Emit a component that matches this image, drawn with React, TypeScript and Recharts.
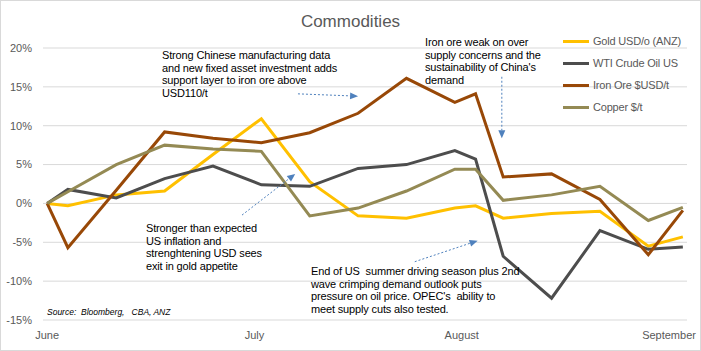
import React from 'react';
import { LineChart, Line, XAxis, YAxis, CartesianGrid, ReferenceLine } from 'recharts';

// days since the start of June, one entry per observation
const days = [0, 3, 10, 17, 24, 31, 38, 45, 52, 59, 62, 66, 73, 80, 87, 92];

// % change since start of period
const gold = [0, -0.3, 1.1, 1.6, 6.3, 10.9, 2.8, -1.6, -1.9, -0.6, -0.3, -1.9, -1.3, -1.0, -5.5, -4.3];
const wti = [0, 1.8, 0.7, 3.2, 4.8, 2.4, 2.2, 4.5, 5.0, 6.8, 5.7, -6.8, -12.2, -3.5, -5.9, -5.6];
const ironOre = [0, -5.7, 1.7, 9.2, 8.4, 7.8, 9.1, 11.6, 16.1, 13.0, 14.1, 3.4, 3.8, 0.5, -6.6, -0.9];
const copper = [0, 1.5, 5.0, 7.5, 7.0, 6.7, -1.6, -0.6, 1.6, 4.4, 4.4, 0.4, 1.1, 2.2, -2.2, -0.5];

const monthTicks = [0, 30, 60, 90];
const monthLabels = ['June', 'July', 'August', 'September'];
const pctTicks = [-15, -10, -5, 0, 5, 10, 15, 20];

const seriesKeys = ['gold', 'wti', 'iron', 'copper'];
const seriesNames = ['Gold USD/o (ANZ)', 'WTI Crude Oil US', 'Iron Ore $USD/t', 'Copper $/t'];
const seriesColors = ['#FFC000', '#4D4D4D', '#984807', '#948A54'];

// annotation arrows, in chart units (day, %)
const arrowFrom = [[36.3, 14.1], [28.2, -1.5], [65.8, 16.3], [53.2, -7.5]];
const arrowTo = [[45.0, 13.8], [35.9, 3.8], [65.8, 8.4], [62.3, -4.8]];

const data = days.map((d, i) => ({
  day: d,
  gold: gold[i],
  wti: wti[i],
  iron: ironOre[i],
  copper: copper[i],
}));

const font = '"Liberation Sans", Arial, sans-serif';
const grey = '#595959';
const arrowColor = '#4F81BD';

const Arrow = (props: any) => {
  const { x1, y1, x2, y2 } = props;
  const ang = Math.atan2(y2 - y1, x2 - x1);
  const len = 8;
  const half = 3.5;
  const bx = x2 - len * Math.cos(ang);
  const by = y2 - len * Math.sin(ang);
  const px = -Math.sin(ang) * half;
  const py = Math.cos(ang) * half;
  return (
    <g>
      <line x1={x1} y1={y1} x2={bx} y2={by} stroke={arrowColor} strokeWidth={1} strokeDasharray="2 2" />
      <polygon points={`${x2},${y2} ${bx + px},${by + py} ${bx - px},${by - py}`} fill={arrowColor} />
    </g>
  );
};

const noteStyle: React.CSSProperties = {
  position: 'absolute',
  fontFamily: font,
  fontSize: 11,
  letterSpacing: -0.15,
  lineHeight: '12.5px',
  color: '#000',
  whiteSpace: 'pre',
};

export default function App() {
  return (
    <div style={{ position: 'absolute', left: 0, top: 0, width: 701, height: 351, background: '#fff' }}>
      <LineChart width={701} height={351} data={data} margin={{ top: 48, right: 14, left: 0, bottom: 0 }}>
        <CartesianGrid vertical={false} stroke="#D9D9D9" />
        <XAxis
          dataKey="day"
          type="number"
          domain={[-0.6, 92.6]}
          ticks={monthTicks}
          tickFormatter={(v: number) => monthLabels[monthTicks.indexOf(v)]}
          axisLine={false}
          tickLine={false}
          tickSize={0}
          tickMargin={11}
          height={31}
          tick={{ fill: grey, fontSize: 11, fontFamily: font }}
          allowDataOverflow
        />
        <YAxis
          domain={[-15, 20]}
          ticks={pctTicks}
          tickFormatter={(v: number) => `${v}%`}
          axisLine={false}
          tickLine={false}
          tickSize={0}
          tickMargin={11}
          width={43}
          tick={{ fill: grey, fontSize: 11, fontFamily: font }}
        />
        {seriesKeys.map((k, i) => (
          <Line
            key={k}
            dataKey={k}
            name={seriesNames[i]}
            type="linear"
            stroke={seriesColors[i]}
            strokeWidth={3}
            dot={false}
            isAnimationActive={false}
          />
        ))}
        {arrowFrom.map((f, i) => (
          <ReferenceLine
            key={i}
            segment={[{ x: f[0], y: f[1] }, { x: arrowTo[i][0], y: arrowTo[i][1] }]}
            shape={Arrow}
          />
        ))}
      </LineChart>

      <div style={{ position: 'absolute', left: 0, width: 701, top: 12, textAlign: 'center', fontFamily: font, fontSize: 17, color: grey }}>
        Commodities
      </div>

      <div style={{ position: 'absolute', left: 563, top: 30 }}>
        {seriesNames.map((n, i) => (
          <div key={n} style={{ display: 'flex', alignItems: 'center', height: 22 }}>
            <div style={{ width: 26, height: 3, background: seriesColors[i], marginRight: 4 }} />
            <span style={{ fontFamily: font, fontSize: 11, color: grey, letterSpacing: -0.2 }}>{n}</span>
          </div>
        ))}
      </div>

      <div style={{ ...noteStyle, left: 162, top: 49 }}>
        {'Strong Chinese manufacturing data\nand new fixed asset investment adds\nsupport layer to iron ore above\nUSD110/t'}
      </div>
      <div style={{ ...noteStyle, left: 425, top: 36 }}>
        {'Iron ore weak on over\nsupply concerns and the\nsustainability of China\'s\ndemand'}
      </div>
      <div style={{ ...noteStyle, left: 146, top: 222 }}>
        {'Stronger than expected\nUS inflation and\nstrenghtening USD sees\nexit in gold appetite'}
      </div>
      <div style={{ ...noteStyle, left: 311, top: 265 }}>
        {'End of US  summer driving season plus 2nd\nwave crimping demand outlook puts\npressure on oil price. OPEC\'s  ability to\nmeet supply cuts also tested.'}
      </div>
      <div style={{ position: 'absolute', left: 47, top: 307, fontFamily: font, fontSize: 8.5, fontStyle: 'italic', color: '#000', whiteSpace: 'pre' }}>
        {'Source:  Bloomberg,   CBA, ANZ'}
      </div>

      <div style={{ position: 'absolute', left: 0, top: 0, width: 701, height: 351, boxSizing: 'border-box', border: '1px solid #D9D9D9', pointerEvents: 'none' }} />
    </div>
  );
}
